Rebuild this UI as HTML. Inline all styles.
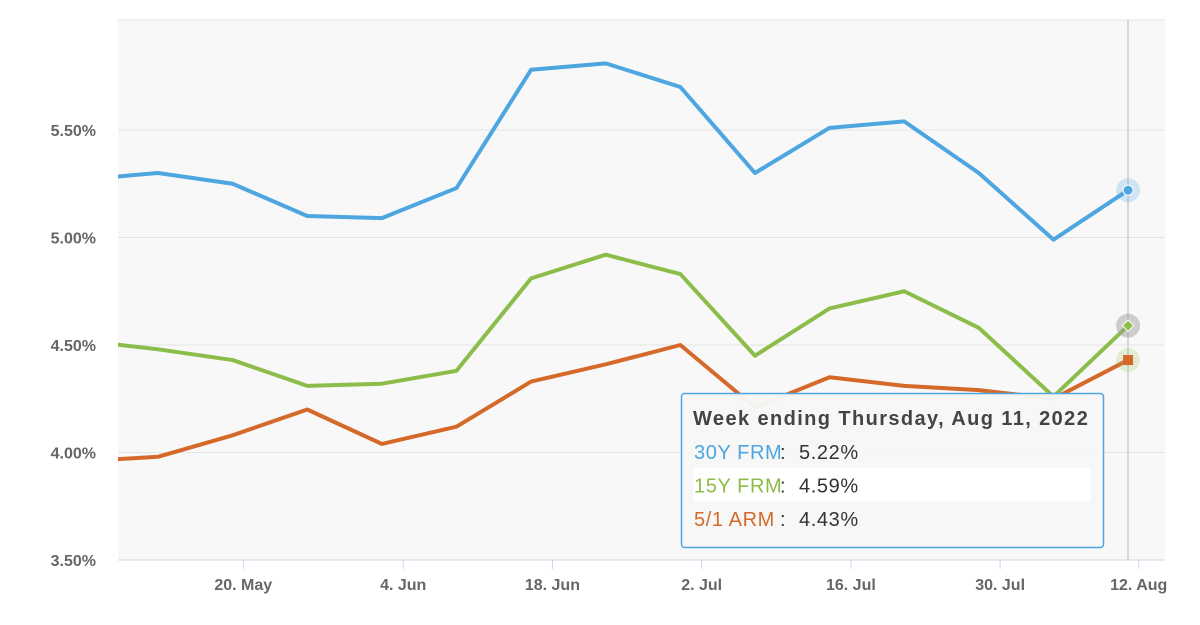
<!DOCTYPE html>
<html><head><meta charset="utf-8"><style>
body{margin:0;background:#fff;font-family:"Liberation Sans",sans-serif}
svg{display:block}
</style></head><body>
<svg id="c" width="1200" height="625"></svg>
<script>
const dates=["2022-05-05","2022-05-12","2022-05-19","2022-05-26","2022-06-02","2022-06-09","2022-06-16","2022-06-23","2022-06-30","2022-07-07","2022-07-14","2022-07-21","2022-07-28","2022-08-04","2022-08-11"];
const frm30=[5.27,5.30,5.25,5.10,5.09,5.23,5.78,5.81,5.70,5.30,5.51,5.54,5.30,4.99,5.22];
const frm15=[4.52,4.48,4.43,4.31,4.32,4.38,4.81,4.92,4.83,4.45,4.67,4.75,4.58,4.26,4.59];
const arm51=[3.96,3.98,4.08,4.20,4.04,4.12,4.33,4.41,4.50,4.21,4.35,4.31,4.29,4.25,4.43];
const yTicks=[3.5,4.0,4.5,5.0,5.5];
const xTickDates=["2022-05-20","2022-06-04","2022-06-18","2022-07-02","2022-07-16","2022-07-30","2022-08-12"];
const xTickLabels=["20. May","4. Jun","18. Jun","2. Jul","16. Jul","30. Jul","12. Aug"];
const NS="http://www.w3.org/2000/svg",svg=document.getElementById('c');
const L=118,R=1165,T=20,B=560;
const day=864e5,d0=Date.parse("2022-05-12");
const x=d=>158+(Date.parse(d)-d0)/day*10.66;
const y=v=>560-(v-3.5)*215;
function el(t,a,p){const e=document.createElementNS(NS,t);for(const k in a)e.setAttribute(k,a[k]);(p||svg).appendChild(e);return e;}
const bg=el('rect',{x:L,y:T,width:R-L,height:B-T,fill:'#f8f8f8'});

el('line',{x1:L,x2:R,y1:T,y2:T,stroke:'#e3e3e3'});
yTicks.forEach(v=>{
 if(v>3.5){const g=el('line',{x1:L,x2:R,y1:y(v),y2:y(v),stroke:'#e3e3e3'});}
 const t=el('text',{x:96,y:y(v)+6,'text-anchor':'end','font-size':16,'font-weight':'bold',fill:'#666'});t.textContent=v.toFixed(2)+'%';
 
});
const ax=el('line',{x1:L,x2:R,y1:B,y2:B,stroke:'#ccd6eb'});
xTickDates.forEach((d,i)=>{
 el('line',{x1:x(d),x2:x(d),y1:B,y2:B+9,stroke:'#ccd6eb'});
 const t=el('text',{x:x(d),y:590,'text-anchor':'middle','font-size':16,'font-weight':'bold',fill:'#666'});t.textContent=xTickLabels[i];
 
});
const cp=el('clipPath',{id:'cp'});el('rect',{x:L,y:T,width:R-L,height:B-T},cp);
const ch=el('line',{x1:1128,x2:1128,y1:T,y2:B,stroke:'#ccc','stroke-width':1.5});
function series(vals,col,name){
 const p=el('polyline',{points:vals.map((v,i)=>x(dates[i])+','+y(v)).join(' '),fill:'none',stroke:col,'stroke-width':4,'stroke-linejoin':'round','clip-path':'url(#cp)'});
 
}
series(arm51,'#d4692a','arm51-line');series(frm15,'#8cbd4b','frm15-line');series(frm30,'#4ea6e0','frm30-line');
const n=dates.length-1,lx=x(dates[n]);
el('circle',{cx:lx,cy:y(frm30[n]),r:12,fill:'#4ea6e0','fill-opacity':0.25});
const m1=el('circle',{cx:lx,cy:y(frm30[n]),r:5,fill:'#4ea6e0',stroke:'#fff','stroke-width':1});
el('circle',{cx:lx,cy:y(frm15[n]),r:12,fill:'#999','fill-opacity':0.45});
const m2=el('rect',{x:lx-4,y:y(frm15[n])-4,width:8,height:8,fill:'#8cbd4b',stroke:'#fff',transform:`rotate(45 ${lx} ${y(frm15[n])})`});
el('circle',{cx:lx,cy:y(arm51[n]),r:12,fill:'#8cbd4b','fill-opacity':0.2});
const m3=el('rect',{x:lx-5,y:y(arm51[n])-5,width:10,height:10,fill:'#d4692a'});
const tg=el('g',{});
el('rect',{x:681.5,y:393.5,width:422,height:154,rx:3,fill:'#f7f7f7','fill-opacity':0.97,stroke:'#4ea6e0','stroke-width':1.5},tg);
el('rect',{x:693,y:468,width:398,height:33,fill:'#fff'},tg);
const tt=el('text',{x:693,y:425,'font-size':20,'font-weight':'bold',fill:'#444','letter-spacing':1.4},tg);tt.textContent='Week ending Thursday, Aug 11, 2022';
[['30Y FRM','#4ea6e0',frm30[n]],['15Y FRM','#8cbd4b',frm15[n]],['5/1 ARM','#d4692a',arm51[n]]].forEach((r,i)=>{
 const t=el('text',{x:694,y:459+i*33.5,'font-size':20,fill:r[1],'letter-spacing':0.6},tg);t.textContent=r[0];
 const c=el('text',{x:780,y:459+i*33.5,'font-size':20,fill:'#333'},tg);c.textContent=':';
 const v=el('text',{x:799,y:459+i*33.5,'font-size':20,fill:'#333','letter-spacing':0.6},tg);v.textContent=r[2].toFixed(2)+'%';
 
 
});
</script>
</body></html>
